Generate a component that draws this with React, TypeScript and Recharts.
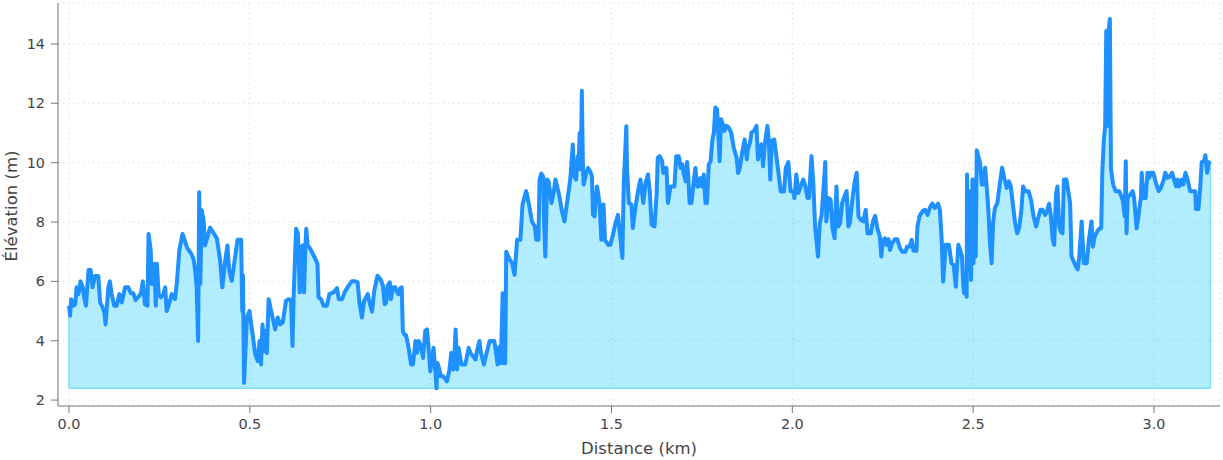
import {
  ComposedChart,
  Area,
  Line,
  XAxis,
  YAxis,
  CartesianGrid,
  ReferenceLine,
} from "recharts";

// distance along the track (km)
const distanceKm = [
  0.0, 0.003, 0.006, 0.012, 0.017, 0.021, 0.026, 0.032, 0.038, 0.042, 0.047, 0.054, 0.06, 0.065, 0.072, 0.081,
  0.086, 0.093, 0.098, 0.101, 0.109, 0.113, 0.118, 0.125, 0.132, 0.139, 0.146, 0.155, 0.164, 0.171, 0.178, 0.184,
  0.192, 0.199, 0.204, 0.21, 0.217, 0.22, 0.226, 0.229, 0.233, 0.236, 0.24, 0.243, 0.248, 0.254, 0.261, 0.266,
  0.27, 0.278, 0.284, 0.293, 0.298, 0.305, 0.314, 0.326, 0.338, 0.344, 0.349, 0.353, 0.357, 0.36, 0.363, 0.367,
  0.372, 0.376, 0.384, 0.39, 0.395, 0.409, 0.418, 0.424, 0.432, 0.438, 0.443, 0.45, 0.46, 0.466, 0.476, 0.479,
  0.481, 0.484, 0.492, 0.499, 0.515, 0.522, 0.527, 0.531, 0.535, 0.54, 0.543, 0.547, 0.552, 0.561, 0.57, 0.577,
  0.584, 0.591, 0.6, 0.607, 0.614, 0.618, 0.621, 0.626, 0.628, 0.633, 0.638, 0.642, 0.646, 0.65, 0.653, 0.656,
  0.66, 0.667, 0.674, 0.681, 0.687, 0.69, 0.697, 0.704, 0.713, 0.72, 0.732, 0.741, 0.746, 0.755, 0.762, 0.773,
  0.782, 0.792, 0.798, 0.803, 0.81, 0.816, 0.826, 0.831, 0.838, 0.844, 0.853, 0.861, 0.868, 0.873, 0.877, 0.881,
  0.887, 0.89, 0.896, 0.902, 0.907, 0.911, 0.916, 0.92, 0.923, 0.927, 0.932, 0.939, 0.946, 0.951, 0.958, 0.962,
  0.967, 0.973, 0.979, 0.985, 0.99, 0.995, 0.999, 1.004, 1.008, 1.013, 1.016, 1.019, 1.024, 1.028, 1.035, 1.045,
  1.052, 1.057, 1.062, 1.066, 1.069, 1.073, 1.077, 1.085, 1.096, 1.105, 1.11, 1.117, 1.124, 1.128, 1.135, 1.139,
  1.147, 1.156, 1.163, 1.176, 1.181, 1.185, 1.19, 1.194, 1.197, 1.199, 1.203, 1.206, 1.209, 1.216, 1.225, 1.232,
  1.239, 1.248, 1.254, 1.264, 1.271, 1.28, 1.288, 1.292, 1.298, 1.301, 1.306, 1.311, 1.314, 1.317, 1.322, 1.326,
  1.334, 1.34, 1.345, 1.354, 1.364, 1.37, 1.377, 1.386, 1.393, 1.397, 1.402, 1.407, 1.409, 1.412, 1.415, 1.418,
  1.421, 1.423, 1.43, 1.435, 1.441, 1.446, 1.449, 1.453, 1.46, 1.467, 1.472, 1.478, 1.482, 1.491, 1.497, 1.504,
  1.511, 1.518, 1.525, 1.53, 1.534, 1.541, 1.543, 1.548, 1.555, 1.559, 1.566, 1.574, 1.58, 1.588, 1.594, 1.601,
  1.606, 1.611, 1.619, 1.625, 1.628, 1.633, 1.64, 1.643, 1.647, 1.652, 1.656, 1.663, 1.668, 1.674, 1.679, 1.686,
  1.691, 1.696, 1.7, 1.705, 1.709, 1.712, 1.716, 1.721, 1.728, 1.732, 1.737, 1.741, 1.746, 1.751, 1.755, 1.76,
  1.764, 1.769, 1.774, 1.779, 1.783, 1.787, 1.792, 1.799, 1.803, 1.808, 1.812, 1.818, 1.824, 1.831, 1.838, 1.846,
  1.85, 1.855, 1.861, 1.868, 1.874, 1.877, 1.883, 1.887, 1.894, 1.901, 1.905, 1.91, 1.915, 1.919, 1.924, 1.931,
  1.935, 1.939, 1.943, 1.95, 1.957, 1.964, 1.968, 1.977, 1.982, 1.989, 1.995, 2.002, 2.006, 2.011, 2.017, 2.023,
  2.03, 2.035, 2.042, 2.046, 2.053, 2.058, 2.063, 2.071, 2.076, 2.081, 2.086, 2.091, 2.094, 2.1, 2.106, 2.111,
  2.117, 2.122, 2.127, 2.132, 2.138, 2.146, 2.15, 2.155, 2.159, 2.166, 2.172, 2.178, 2.183, 2.189, 2.196, 2.203,
  2.208, 2.217, 2.223, 2.229, 2.235, 2.242, 2.246, 2.251, 2.256, 2.261, 2.266, 2.27, 2.276, 2.283, 2.29, 2.298,
  2.304, 2.313, 2.317, 2.324, 2.33, 2.335, 2.343, 2.346, 2.352, 2.36, 2.367, 2.374, 2.38, 2.387, 2.394, 2.403,
  2.408, 2.413, 2.417, 2.424, 2.433, 2.44, 2.446, 2.452, 2.459, 2.464, 2.469, 2.473, 2.475, 2.478, 2.482, 2.483,
  2.486, 2.49, 2.494, 2.495, 2.498, 2.501, 2.504, 2.507, 2.51, 2.514, 2.519, 2.524, 2.528, 2.533, 2.537, 2.542,
  2.546, 2.551, 2.555, 2.56, 2.567, 2.574, 2.58, 2.587, 2.593, 2.599, 2.604, 2.61, 2.616, 2.622, 2.627, 2.633,
  2.638, 2.644, 2.653, 2.66, 2.667, 2.674, 2.681, 2.686, 2.692, 2.699, 2.704, 2.71, 2.715, 2.72, 2.724, 2.729,
  2.733, 2.738, 2.742, 2.747, 2.751, 2.758, 2.763, 2.768, 2.772, 2.778, 2.784, 2.789, 2.793, 2.8, 2.806, 2.814,
  2.82, 2.827, 2.831, 2.836, 2.843, 2.85, 2.854, 2.857, 2.861, 2.865, 2.868, 2.871, 2.874, 2.878, 2.881, 2.887,
  2.894, 2.904, 2.908, 2.914, 2.919, 2.922, 2.924, 2.927, 2.934, 2.941, 2.945, 2.952, 2.957, 2.964, 2.966, 2.971,
  2.977, 2.982, 2.987, 2.991, 2.998, 3.005, 3.013, 3.019, 3.027, 3.031, 3.038, 3.044, 3.05, 3.057, 3.061, 3.066,
  3.07, 3.077, 3.081, 3.087, 3.093, 3.1, 3.107, 3.114, 3.116, 3.123, 3.128, 3.132, 3.138, 3.142, 3.147, 3.151,
  3.156,
];

// elevation at each point (m)
const elevationM = [
  5.18, 4.84, 5.4, 5.18, 5.23, 5.8, 5.57, 6.0, 5.8, 5.46, 5.18, 6.38, 6.38, 5.8, 6.18, 6.18,
  5.29, 5.12, 4.95, 4.55, 5.8, 6.0, 5.57, 5.18, 5.18, 5.57, 5.29, 5.8, 5.8, 5.6, 5.6, 5.37,
  5.48, 5.6, 6.0, 5.23, 5.18, 7.6, 7.04, 5.91, 5.91, 6.59, 5.18, 6.59, 5.57, 5.46, 5.57, 5.8,
  5.0, 5.29, 5.57, 5.4, 5.91, 7.04, 7.6, 7.15, 6.93, 6.76, 6.36, 5.8, 3.99, 9.0, 5.91, 8.4,
  8.06, 7.21, 7.55, 7.81, 7.72, 7.44, 6.7, 5.8, 6.7, 7.21, 6.36, 6.02, 6.87, 7.4, 7.4, 5.0,
  6.2, 2.58, 4.78, 5.0, 3.54, 3.31, 3.99, 3.2, 4.55, 3.65, 4.33, 3.59, 5.4, 4.89, 4.38, 4.78,
  4.55, 4.61, 5.34, 5.4, 5.37, 3.82, 5.46, 7.15, 7.77, 7.6, 5.63, 7.15, 7.21, 5.63, 6.93, 7.77,
  7.21, 7.1, 6.93, 6.76, 6.59, 5.46, 5.4, 5.18, 5.18, 5.57, 5.63, 5.77, 5.4, 5.4, 5.63, 5.85,
  6.0, 6.0, 5.97, 5.29, 4.78, 5.34, 5.57, 5.29, 4.98, 5.68, 6.19, 6.08, 5.85, 5.23, 5.29, 5.85,
  5.97, 5.4, 5.8, 5.8, 5.63, 5.57, 5.77, 5.8, 4.33, 4.21, 4.19, 3.76, 3.2, 3.2, 3.99, 3.59,
  3.99, 3.82, 3.42, 4.33, 4.38, 3.65, 2.97, 3.37, 3.76, 2.97, 2.4, 3.25, 3.03, 2.8, 2.8, 2.63,
  3.03, 3.59, 3.03, 3.59, 4.38, 3.03, 3.76, 3.2, 3.2, 3.76, 3.59, 3.48, 3.37, 3.65, 3.99, 3.59,
  3.2, 3.65, 3.99, 3.99, 3.59, 3.2, 3.8, 3.24, 4.6, 5.6, 3.24, 3.24, 7.0, 6.79, 6.62, 6.22,
  7.4, 7.4, 8.59, 9.04, 8.64, 8.02, 7.85, 7.4, 7.4, 9.43, 9.63, 9.54, 7.85, 6.84, 9.43, 9.37,
  8.64, 8.98, 9.43, 8.98, 8.3, 8.02, 8.64, 9.43, 10.61, 9.54, 9.43, 10.22, 9.88, 11.0, 9.77, 12.42,
  9.88, 9.26, 9.65, 9.82, 9.71, 9.54, 8.24, 8.19, 9.2, 8.64, 7.4, 8.59, 7.4, 7.23, 7.23, 7.57,
  7.96, 8.24, 7.4, 6.79, 9.32, 11.23, 9.77, 8.64, 8.59, 7.8, 8.47, 9.09, 9.43, 8.64, 9.32, 9.6,
  8.98, 7.91, 7.85, 8.98, 10.16, 10.22, 10.05, 9.65, 9.82, 9.82, 8.64, 9.2, 9.2, 9.2, 10.22, 10.22,
  9.82, 9.94, 9.6, 9.37, 10.02, 9.6, 8.64, 8.64, 9.43, 9.82, 9.2, 9.2, 9.48, 9.2, 9.6, 8.64,
  8.64, 9.94, 10.05, 10.78, 11.01, 11.86, 11.8, 10.05, 11.46, 11.29, 11.07, 11.24, 11.18, 11.01, 10.5, 10.16,
  9.65, 9.82, 10.33, 10.78, 10.11, 10.45, 10.67, 11.01, 11.07, 11.24, 10.11, 10.45, 10.62, 9.88, 10.62, 11.24,
  10.78, 9.43, 10.73, 10.78, 10.11, 9.43, 9.03, 9.03, 9.82, 10.02, 9.04, 9.04, 8.81, 9.6, 8.98, 9.2,
  9.43, 9.26, 8.81, 8.81, 10.22, 9.32, 7.85, 6.84, 7.96, 8.24, 9.09, 10.02, 8.02, 8.81, 8.75, 7.79,
  7.45, 9.2, 7.85, 7.96, 8.64, 8.92, 9.04, 7.85, 7.96, 8.75, 9.32, 9.66, 8.19, 8.08, 8.02, 8.41,
  7.62, 7.62, 8.02, 8.21, 7.79, 7.51, 6.84, 7.4, 7.45, 7.23, 7.42, 7.06, 7.28, 7.42, 7.42, 7.11,
  7.0, 7.0, 7.17, 7.17, 7.4, 7.03, 7.03, 7.85, 8.21, 8.36, 8.41, 8.24, 8.47, 8.62, 8.47, 8.62,
  8.41, 7.4, 5.99, 7.23, 7.23, 6.61, 6.55, 5.82, 7.23, 7.06, 6.84, 5.82, 5.6, 6.16, 5.48, 9.6,
  6.38, 9.04, 6.05, 6.84, 9.43, 6.61, 9.43, 6.84, 10.42, 10.22, 10.0, 9.26, 9.26, 9.83, 9.26, 8.41,
  7.4, 6.61, 7.96, 8.47, 8.64, 9.32, 9.83, 9.43, 9.15, 9.37, 9.2, 8.58, 7.96, 7.62, 7.79, 8.36,
  9.2, 9.04, 9.04, 8.75, 8.19, 7.85, 8.19, 8.41, 8.41, 8.24, 8.36, 8.62, 8.19, 7.4, 7.23, 8.92,
  9.2, 7.85, 7.68, 7.62, 9.43, 9.43, 9.04, 8.64, 6.84, 6.67, 6.5, 6.4, 6.78, 8.02, 6.61, 6.61,
  7.4, 8.02, 7.17, 7.51, 7.68, 7.79, 7.79, 9.65, 10.7, 11.24, 14.44, 11.24, 14.44, 14.84, 9.8, 9.26,
  9.04, 9.04, 8.92, 8.7, 8.19, 10.05, 7.62, 8.81, 8.92, 9.04, 8.81, 7.79, 8.19, 8.87, 9.66, 8.81,
  8.81, 9.66, 9.49, 9.66, 9.66, 9.32, 9.04, 9.15, 9.43, 9.66, 9.49, 9.54, 9.66, 9.37, 9.2, 9.43,
  9.2, 9.43, 9.26, 9.66, 9.43, 9.04, 9.04, 9.04, 8.44, 8.44, 9.2, 10.02, 10.05, 10.25, 9.66, 10.0,
  10.05,
];

const xTicks = [0, 0.5, 1.0, 1.5, 2.0, 2.5, 3.0];
const yTicks = [2, 4, 6, 8, 10, 12, 14];

const rows = distanceKm.map((d, i) => ({ d, e: elevationM[i] }));
const baseElev = Math.min(...elevationM);
const lastDist = distanceKm[distanceKm.length - 1];
const firstElev = elevationM[0];
const lastElev = elevationM[elevationM.length - 1];

const tickStyle = { fill: "#444", fontSize: 14.4, fontFamily: "DejaVu Sans" };
const edgeColor = "#7fdcfb";

export default function App() {
  return (
    <div style={{ position: "absolute", left: 0, top: 0, fontFamily: "DejaVu Sans" }}>
      <ComposedChart width={1223} height={460} data={rows} margin={{ top: 3, right: 3, bottom: 0, left: 0 }}>
        <CartesianGrid stroke="#dedede" strokeDasharray="1.5 3.5" />
        <XAxis
          type="number"
          dataKey="d"
          domain={[-0.0304, 3.1825]}
          ticks={xTicks}
          tickFormatter={(v: number) => v.toFixed(1)}
          allowDataOverflow
          height={54}
          tickSize={7}
          tickMargin={6}
          tick={tickStyle}
          axisLine={{ stroke: "#777" }}
          tickLine={{ stroke: "#777" }}
          label={() => (
            <text x={639} y={454} textAnchor="middle" fill="#444" fontSize={16.5} fontFamily="DejaVu Sans">
              Distance (km)
            </text>
          )}
        />
        <YAxis
          type="number"
          domain={[1.8, 15.38]}
          ticks={yTicks}
          allowDataOverflow
          width={58}
          tickSize={7}
          tickMargin={6}
          tick={tickStyle}
          axisLine={{ stroke: "#777" }}
          tickLine={{ stroke: "#777" }}
          label={() => (
            <text
              x={16.5}
              y={206}
              transform="rotate(-90 16.5 206)"
              textAnchor="middle"
              fill="#444"
              fontSize={16.5}
              fontFamily="DejaVu Sans"
            >
              Élévation (m)
            </text>
          )}
        />
        <Area
          type="linear"
          dataKey="e"
          baseValue={baseElev}
          stroke="none"
          fill="#00bfff"
          fillOpacity={0.3}
          isAnimationActive={false}
        />
        <ReferenceLine
          segment={[{ x: 0, y: baseElev }, { x: lastDist, y: baseElev }]}
          stroke={edgeColor}
          strokeWidth={1.5}
        />
        <ReferenceLine
          segment={[{ x: 0, y: baseElev }, { x: 0, y: firstElev }]}
          stroke={edgeColor}
          strokeWidth={1.5}
        />
        <ReferenceLine
          segment={[{ x: lastDist, y: baseElev }, { x: lastDist, y: lastElev }]}
          stroke={edgeColor}
          strokeWidth={1.5}
        />
        <Line
          type="linear"
          dataKey="e"
          stroke="#1e90ff"
          strokeWidth={4}
          strokeLinejoin="round"
          dot={false}
          activeDot={false}
          isAnimationActive={false}
        />
      </ComposedChart>
    </div>
  );
}
